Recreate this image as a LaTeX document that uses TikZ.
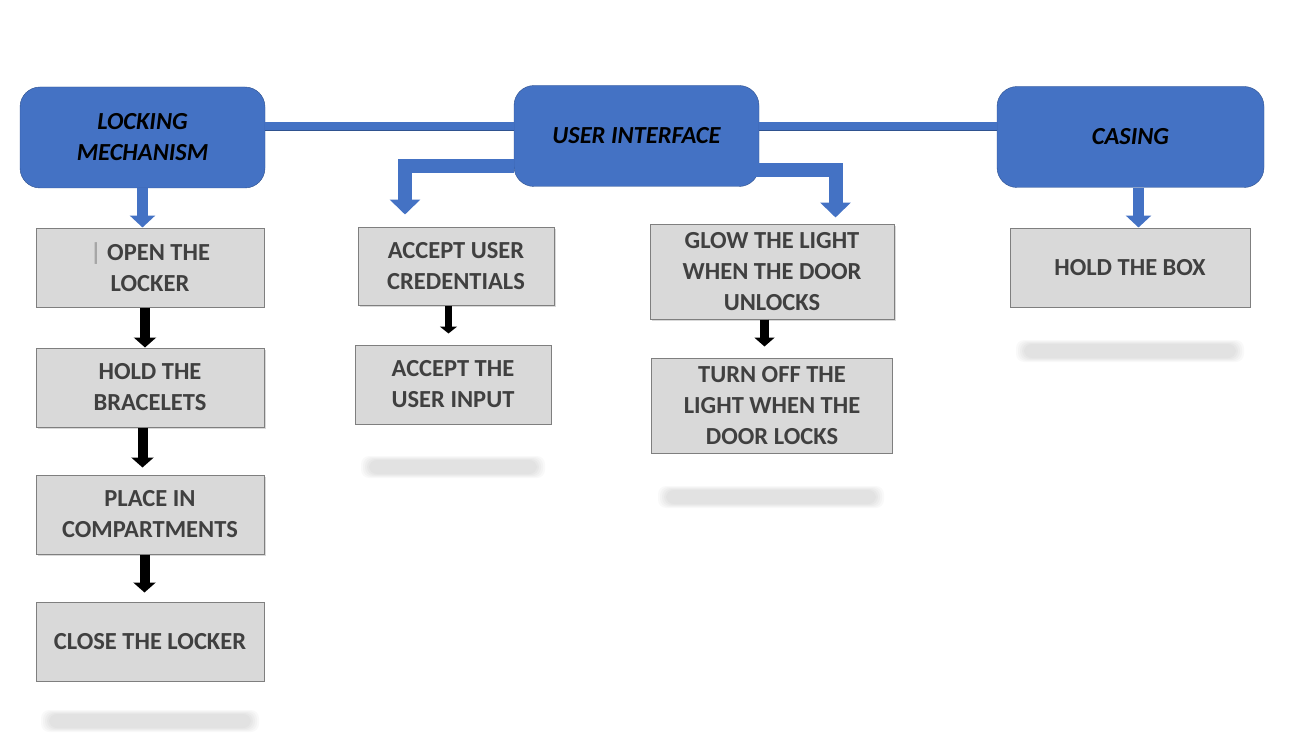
\documentclass[tikz,border=0pt]{standalone}
\usepackage{fontspec}
\setmainfont{Carlito}
\usepackage{xcolor}
\usetikzlibrary{positioning,calc,arrows.meta,shadows}

\definecolor{uiblue}{HTML}{4472C4}
\definecolor{uiedge}{HTML}{2F528F}
\definecolor{boxgray}{HTML}{D9D9D9}
\definecolor{boxedge}{HTML}{7F7F7F}
\definecolor{textgray}{HTML}{404040}

\begin{document}
\begin{tikzpicture}[x=1pt, y=-1pt,
        head/.style={draw=uiedge, fill=uiblue, rounded corners=20pt, minimum width=245pt, minimum height=101pt, align=center, inner sep=0pt, font=\fontsize{24.5}{31}\selectfont\bfseries\itshape},
        task/.style={draw=boxedge, line width=1pt, fill=boxgray, minimum height=79pt, align=center, inner sep=0pt, text=textgray, font=\fontsize{24.5}{31}\selectfont\bfseries},
        lift/.style={drop shadow={shadow xshift=2pt, shadow yshift=-2pt, opacity=0.3}},
        link/.style={draw=uiedge, line width=0.7pt, double=uiblue, double distance=8pt},
        feed/.style={draw=uiblue, line width=11pt, -{Triangle[width=25pt,length=12pt]}},
        branch/.style={draw=uiblue, line width=14pt, -{Triangle[width=30pt,length=15pt]}},
        flow/.style={draw=black, line width=10pt, -{Triangle[width=22pt,length=10pt]}},
        haze/.style={fill=black, opacity=0.025, rounded corners=8pt}
    ]
        \useasboundingbox (0,0) rectangle (1299,741);

        % Headers
        \node [head] (lock) at (142.5,137.5) {LOCKING\\MECHANISM};
        \node [head] (ui) at (636.5,136) {USER INTERFACE};
        \node [head, minimum width=267pt] (casing) at (1130.5,137) {CASING};

        \draw [link] ([yshift=11pt]lock.east) -- ([yshift=11pt]lock.east -| ui.west);
        \draw [link] ([yshift=9.5pt]ui.east) -- ([yshift=9.5pt]ui.east -| casing.west);

        % Locking mechanism
        \node [task, minimum width=228pt] (open) at (150,267.5) {\textcolor{black!35}{|} OPEN THE\\LOCKER};
        \node [task, lift, minimum width=228pt, below=40pt of open] (bracelets) {HOLD THE\\BRACELETS};
        \node [task, lift, minimum width=228pt, below=47pt of bracelets] (compart) {PLACE IN\\COMPARTMENTS};
        \node [task, minimum width=228pt, below=47pt of compart] (close) {CLOSE THE LOCKER};

        \draw [feed] (lock.south) -- (lock.south |- open.north);
        \draw [flow] ([xshift=-5pt]open.south) -- ([xshift=-5pt]bracelets.north);
        \draw [flow] ([xshift=-7.5pt]bracelets.south) -- ([xshift=-7.5pt,yshift=7pt]compart.north);
        \draw [flow] ([xshift=-5.5pt]compart.south) -- ([xshift=-5.5pt,yshift=9pt]close.north);

        % User interface
        \node [task, lift, minimum width=196pt, minimum height=78pt] (cred) at (456,266) {ACCEPT USER\\CREDENTIALS};
        \node [task, minimum width=196pt, below=39pt of cred, xshift=-3pt] (input) {ACCEPT THE\\USER INPUT};
        \node [task, lift, minimum width=244pt, minimum height=95pt] (glow) at (772,271.5) {GLOW THE LIGHT\\WHEN THE DOOR\\UNLOCKS};
        \node [task, minimum width=241pt, minimum height=95pt, below=38pt of glow] (lightoff) {TURN OFF THE\\LIGHT WHEN THE\\DOOR LOCKS};

        \draw [branch] ([yshift=-30pt]ui.west) -| ([xshift=-51pt,yshift=12pt]cred.north);
        \draw [branch] ([xshift=-4pt,yshift=-34pt]ui.east) -| ([xshift=63.5pt,yshift=6pt]glow.north);
        \draw [flow, line width=7pt, -{Triangle[width=17pt,length=7pt]}] ([xshift=-7.5pt]cred.south) -- ([xshift=-4.5pt,yshift=11pt]input.north);
        \draw [flow, line width=9pt, -{Triangle[width=20pt,length=9pt]}] ([xshift=-7.5pt]glow.south) -- ([xshift=-7.5pt,yshift=11pt]lightoff.north);

        % Casing
        \node [task, minimum width=240pt] (box) at (1130,267.5) {HOLD THE BOX};
        \draw [feed] ([xshift=8pt]casing.south) -- ([xshift=8pt]casing.south |- box.north);

        % faded reflections
        \foreach \xa/\ya/\xb/\yb in {45/712/255/730, 365/458/541/476, 662/488/880/506, 1020/342/1240/360}
            \foreach \s in {-4,-2,0,2,4}
                \fill [haze] (\xa+\s,\ya+\s/2) rectangle (\xb-\s,\yb-\s/2);
    \end{tikzpicture}
\end{document}
